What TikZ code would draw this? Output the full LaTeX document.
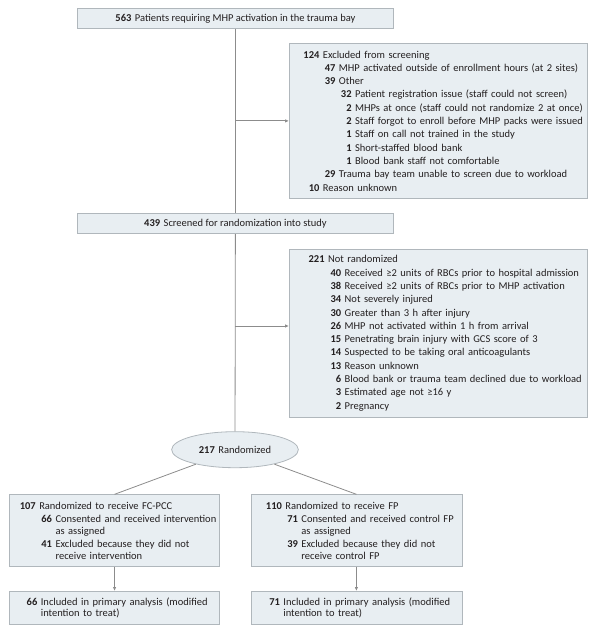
\documentclass[tikz,border=0pt]{standalone}
\usepackage{fontspec}
\setmainfont{Carlito}
\usetikzlibrary{arrows.meta,shapes.geometric,calc}
\definecolor{boxfill}{HTML}{E8EEF2}
\definecolor{boxdraw}{HTML}{B0B7BC}
\definecolor{linec}{HTML}{8C8C8C}
\definecolor{txt}{HTML}{231F20}
\newlength\gapw \setlength\gapw{3.5pt}
\newcommand\itm[3]{\makebox[\dimexpr#1pt-\gapw\relax][r]{\textbf{#2}}\hspace{\gapw}#3}
\newcommand\cnt[2]{\hspace*{#1pt}#2}
\begin{document}
\begin{tikzpicture}[x=1pt,y=-1pt,
  every node/.style={text=txt, font=\fontsize{10.5}{11.7}\selectfont},
  box/.style={draw=boxdraw, fill=boxfill, line width=0.8pt, rectangle, inner xsep=0pt, inner ysep=0pt, anchor=north west, align=left},
  conn/.style={draw=linec, line width=0.8pt},
  arr/.style={conn, -{Latex[length=4pt,width=3.5pt]}}]
\useasboundingbox (0,0) rectangle (593,636);
\node[box, align=center, minimum width=315.4pt, minimum height=20pt] (n563) at (77.3,8.3)
  {\textbf{563}\hspace{\gapw}Patients requiring MHP activation in the trauma bay};
\node[box, minimum width=298pt, minimum height=155pt, text width=296pt] (excl) at (289,43)
  {\itm{32.5}{124}{Excluded from screening}\\[1.6pt]
   \itm{48.5}{47}{MHP activated outside of enrollment hours (at 2 sites)}\\[1.6pt]
   \itm{48.5}{39}{Other}\\[1.6pt]
   \itm{64.7}{32}{Patient registration issue (staff could not screen)}\\[1.6pt]
   \itm{64.7}{2}{MHPs at once (staff could not randomize 2 at once)}\\[1.6pt]
   \itm{64.7}{2}{Staff forgot to enroll before MHP packs were issued}\\[1.6pt]
   \itm{64.7}{1}{Staff on call not trained in the study}\\[1.6pt]
   \itm{64.7}{1}{Short-staffed blood bank}\\[1.6pt]
   \itm{64.7}{1}{Blood bank staff not comfortable}\\[1.6pt]
   \itm{48.5}{29}{Trauma bay team unable to screen due to workload}\\[1.6pt]
   \itm{32.5}{10}{Reason unknown}};
\node[box, align=center, minimum width=315.4pt, minimum height=20pt] (n439) at (77.3,213.3)
  {\textbf{439}\hspace{\gapw}Screened for randomization into study};
\node[box, minimum width=298pt, minimum height=167.7pt, text width=296pt] (nr) at (289,249)
  {\itm{37.7}{221}{Not randomized}\\[1.6pt]
   \itm{54.3}{40}{Received ≥2 units of RBCs prior to hospital admission}\\[1.6pt]
   \itm{54.3}{38}{Received ≥2 units of RBCs prior to MHP activation}\\[1.6pt]
   \itm{54.3}{34}{Not severely injured}\\[1.6pt]
   \itm{54.3}{30}{Greater than 3 h after injury}\\[1.6pt]
   \itm{54.3}{26}{MHP not activated within 1 h from arrival}\\[1.6pt]
   \itm{54.3}{15}{Penetrating brain injury with GCS score of 3}\\[1.6pt]
   \itm{54.3}{14}{Suspected to be taking oral anticoagulants}\\[1.6pt]
   \itm{54.3}{13}{Reason unknown}\\[1.6pt]
   \itm{54.3}{6}{Blood bank or trauma team declined due to workload}\\[1.6pt]
   \itm{54.3}{3}{Estimated age not ≥16 y}\\[1.6pt]
   \itm{54.3}{2}{Pregnancy}};
\node[ellipse, draw=boxdraw, fill=boxfill, line width=0.8pt, minimum width=126.7pt, minimum height=36pt, inner sep=0pt] (rand) at (235,449.7)
  {\textbf{217}\hspace{\gapw}Randomized};
\node[box, minimum width=210.3pt, minimum height=71.4pt, text width=208pt] (armL) at (9,494.3)
  {\itm{28.7}{107}{Randomized to receive FC-PCC}\\[1.6pt]
   \itm{45}{66}{Consented and received intervention}\\
   \cnt{45}{as assigned}\\[1.6pt]
   \itm{45}{41}{Excluded because they did not}\\
   \cnt{45}{receive intervention}};
\node[box, minimum width=211pt, minimum height=71.4pt, text width=209pt] (armR) at (250.5,494.3)
  {\itm{33.5}{110}{Randomized to receive FP}\\[1.6pt]
   \itm{49.5}{71}{Consented and received control FP}\\
   \cnt{49.5}{as assigned}\\[1.6pt]
   \itm{49.5}{39}{Excluded because they did not}\\
   \cnt{49.5}{receive control FP}};
\node[box, minimum width=210.3pt, minimum height=33pt, text width=208pt] (incL) at (9,591)
  {\itm{30.3}{66}{Included in primary analysis (modified}\\
   \cnt{30.3}{intention to treat)}};
\node[box, minimum width=211pt, minimum height=33pt, text width=209pt] (incR) at (250.5,591)
  {\itm{31.5}{71}{Included in primary analysis (modified}\\
   \cnt{31.5}{intention to treat)}};
\coordinate (j1) at (n563.south |- excl.west);
\coordinate (j2) at (235,326);
\draw[conn] (n563) -- (n439);
\draw[conn] (n439) -- (rand);
\draw[arr] (j1) -- (excl.west);
\draw[arr] (j2) -- (j2 -| nr.west);
\draw[conn] (rand) -- (armL.north);
\draw[conn] (rand) -- (armR.north);
\draw[arr] (armL) -- (incL);
\draw[arr] (armR) -- (incR);
\end{tikzpicture}
\end{document}
